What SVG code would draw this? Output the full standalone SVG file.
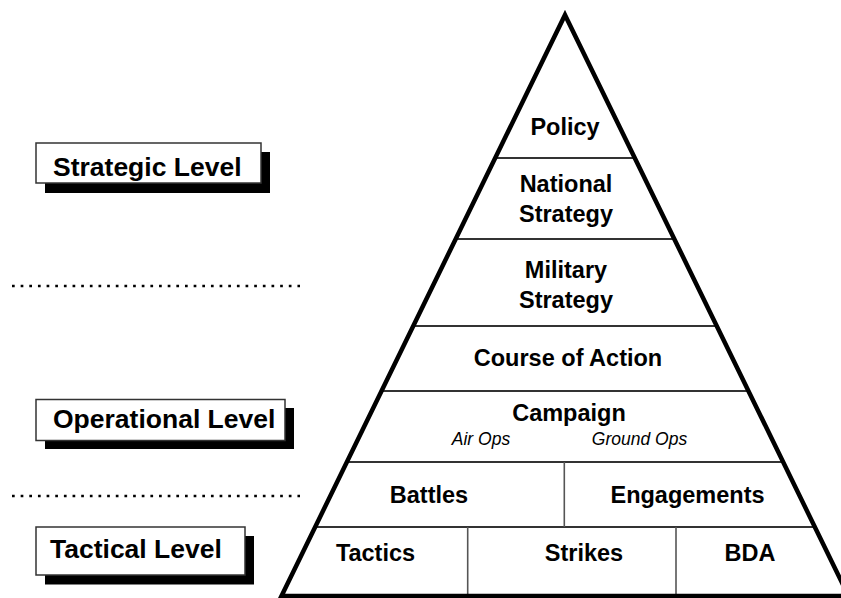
<svg xmlns="http://www.w3.org/2000/svg" width="841" height="598" viewBox="0 0 841 598">
<style>
.t{font-family:"Liberation Sans",Arial,sans-serif;font-weight:bold;font-size:23.5px;fill:#000;text-anchor:middle}
.i{font-family:"Liberation Sans",Arial,sans-serif;font-style:italic;font-size:17.5px;fill:#000;text-anchor:middle}
.lbl{font-family:"Liberation Sans",Arial,sans-serif;font-weight:bold;font-size:26.5px;fill:#000}
.box{fill:#fff;stroke:#333;stroke-width:1.5}
.shadow{fill:#000}
.hdiv{stroke:#333;stroke-width:2}
.vdiv{stroke:#555;stroke-width:1.6}
.dots{stroke:#000;stroke-width:2.7;stroke-dasharray:2.7 5.95}
</style>
<rect width="841" height="598" fill="#fff"/>
<g id="separators">
<line class="dots" x1="12" y1="286" x2="300" y2="286"/>
<line class="dots" x1="12" y1="496" x2="300" y2="496"/>
</g>
<g id="label-strategic">
<rect class="shadow" x="45" y="152" width="225" height="41"/>
<rect class="box" x="36" y="143" width="225" height="40"/>
<text class="lbl" x="53" y="176">Strategic Level</text>
</g>
<g id="label-operational">
<rect class="shadow" x="45" y="408" width="249" height="41"/>
<rect class="box" x="36" y="399.5" width="249" height="41"/>
<text class="lbl" x="53" y="428">Operational Level</text>
</g>
<g id="label-tactical">
<rect class="shadow" x="45" y="536" width="209" height="48.5"/>
<rect class="box" x="36" y="527" width="209" height="48"/>
<text class="lbl" x="50" y="558">Tactical Level</text>
</g>
<g id="dividers">
<line class="hdiv" x1="495.2" y1="158" x2="634.8" y2="158"/>
<line class="hdiv" x1="455.7" y1="239" x2="674.3" y2="239"/>
<line class="hdiv" x1="413.2" y1="326" x2="716.8" y2="326"/>
<line class="hdiv" x1="381.5" y1="391" x2="748.5" y2="391"/>
<line class="hdiv" x1="346.9" y1="462" x2="783.1" y2="462"/>
<line class="hdiv" x1="315.1" y1="527" x2="814.9" y2="527"/>
<line class="vdiv" x1="564.3" y1="462" x2="564.3" y2="527"/>
<line class="vdiv" x1="467.7" y1="527" x2="467.7" y2="596"/>
<line class="vdiv" x1="676" y1="527" x2="676" y2="596"/>
</g>
<g id="pyramid">
<polygon points="565,15 848.5,596 281.5,596" fill="none" stroke="#000" stroke-width="4.5" stroke-linejoin="miter"/>
</g>
<g id="tier-policy"><text class="t" x="565" y="135">Policy</text></g>
<g id="tier-national-strategy"><text class="t" x="566" y="192">National</text><text class="t" x="566" y="222">Strategy</text></g>
<g id="tier-military-strategy"><text class="t" x="566" y="278">Military</text><text class="t" x="566" y="308">Strategy</text></g>
<g id="tier-course-of-action"><text class="t" x="568" y="366">Course of Action</text></g>
<g id="tier-campaign"><text class="t" x="569" y="421">Campaign</text><text class="i" x="481" y="445">Air Ops</text><text class="i" x="639.5" y="445">Ground Ops</text></g>
<g id="tier-battles"><text class="t" x="429" y="503">Battles</text></g>
<g id="tier-engagements"><text class="t" x="687.5" y="503">Engagements</text></g>
<g id="tier-tactics"><text class="t" x="375.5" y="561">Tactics</text></g>
<g id="tier-strikes"><text class="t" x="584" y="561">Strikes</text></g>
<g id="tier-bda"><text class="t" x="750" y="561">BDA</text></g>
</svg>
